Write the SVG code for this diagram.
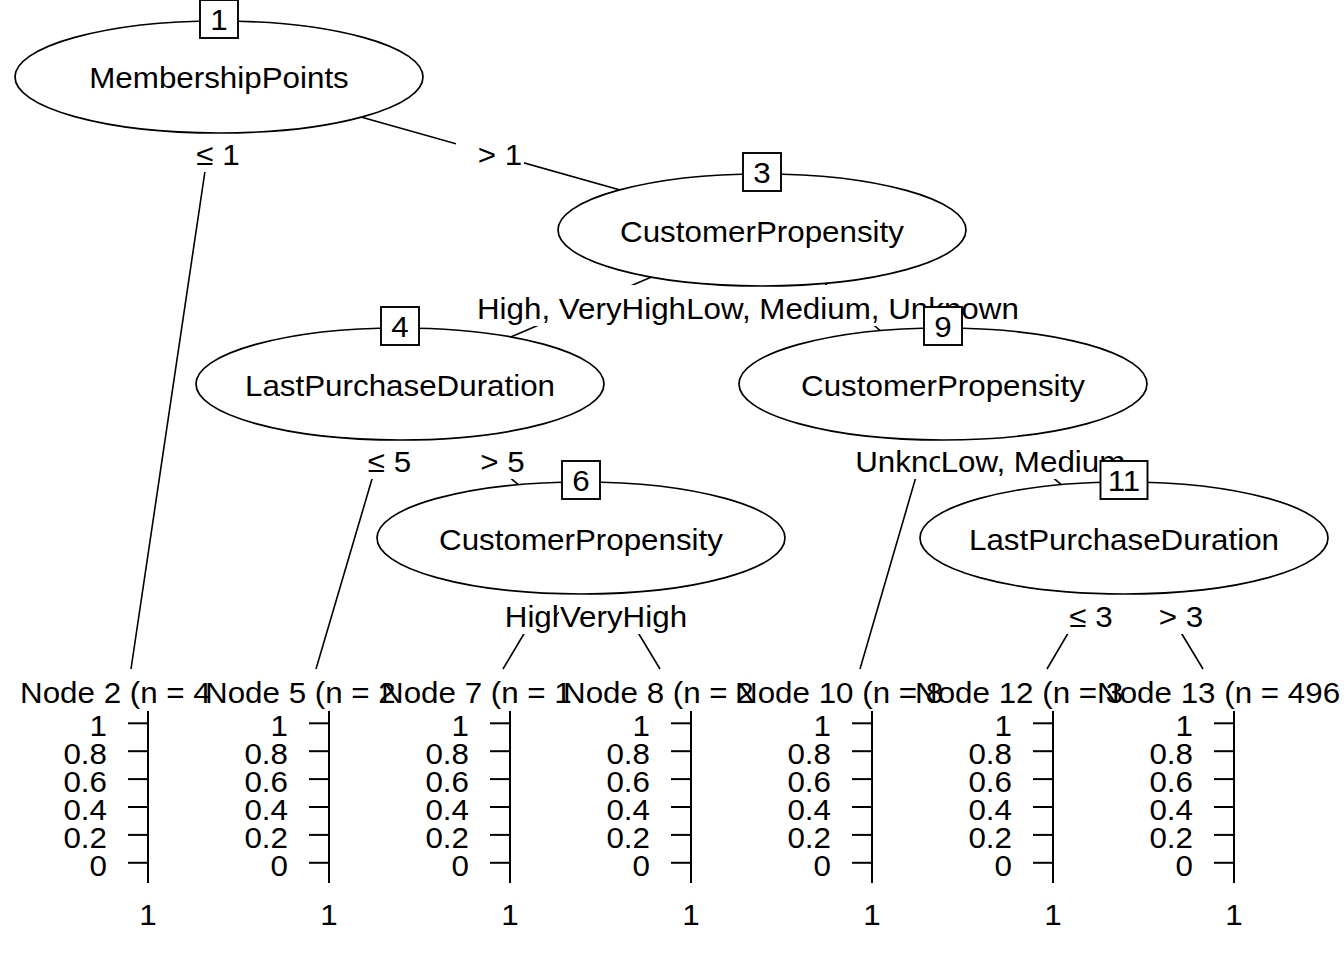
<svg xmlns="http://www.w3.org/2000/svg" width="1344" height="960" viewBox="0 0 1344 960">
<style>
text{font-family:"Liberation Sans",Arial,sans-serif;font-size:30px;fill:#000}
.m{text-anchor:middle}
.e{text-anchor:end}
.n ellipse{fill:#fff;stroke:#000;stroke-width:1.7}
.n rect{fill:#fff;stroke:#000;stroke-width:1.9}
.c line{stroke:#000;stroke-width:1.6}
.bg{fill:#fff;stroke:none}
.ax line{stroke:#000;stroke-width:2}
</style>
<rect width="1344" height="960" fill="#fff"/>
<g id="connectors" class="c">
<line x1="219" y1="77" x2="131" y2="669"/>
<line x1="219" y1="77" x2="762" y2="230"/>
<line x1="762" y1="230" x2="400" y2="384"/>
<line x1="762" y1="230" x2="943" y2="384"/>
<line x1="400" y1="384" x2="316" y2="669"/>
<line x1="400" y1="384" x2="581" y2="538"/>
<line x1="581" y1="538" x2="503" y2="669"/>
<line x1="581" y1="538" x2="660" y2="669"/>
<line x1="943" y1="384" x2="860" y2="669"/>
<line x1="943" y1="384" x2="1124" y2="538"/>
<line x1="1124" y1="538" x2="1047" y2="669"/>
<line x1="1124" y1="538" x2="1203" y2="669"/>
<g id="edge-labels">
<rect class="bg" x="174" y="131" width="68" height="41"/>
<text class="m" transform="translate(218,165) scale(1.045 1)">≤ 1</text>
<rect class="bg" x="456" y="131" width="68" height="41"/>
<text class="m" transform="translate(500,165) scale(1.045 1)">&gt; 1</text>
<rect class="bg" x="476" y="285" width="211" height="41"/>
<text class="m" transform="translate(581.5,319) scale(1.045 1)">High, VeryHigh</text>
<rect class="bg" x="345" y="438" width="68" height="41"/>
<text class="m" transform="translate(389.5,472) scale(1.045 1)">≤ 5</text>
<rect class="bg" x="458" y="438" width="68" height="41"/>
<text class="m" transform="translate(502.5,472) scale(1.045 1)">&gt; 5</text>
<rect class="bg" x="505" y="593" width="64" height="41"/>
<text class="m" transform="translate(537,627) scale(1.045 1)">High</text>
<rect class="bg" x="559" y="593" width="129" height="41"/>
<text class="m" transform="translate(623.5,627) scale(1.045 1)">VeryHigh</text>
<rect class="bg" x="685" y="285" width="335" height="41"/>
<text class="m" transform="translate(852.5,319) scale(1.045 1)">Low, Medium, Unknown</text>
<rect class="bg" x="855" y="438" width="131" height="41"/>
<text class="m" transform="translate(920.5,472) scale(1.045 1)">Unknown</text>
<rect class="bg" x="940" y="438" width="187" height="41"/>
<text class="m" transform="translate(1033,472) scale(1.045 1)">Low, Medium</text>
<rect class="bg" x="1047" y="593" width="68" height="41"/>
<text class="m" transform="translate(1091,627) scale(1.045 1)">≤ 3</text>
<rect class="bg" x="1137" y="593" width="68" height="41"/>
<text class="m" transform="translate(1181,627) scale(1.045 1)">&gt; 3</text>
</g>
</g>
<g id="node1" class="n">
<ellipse cx="219" cy="77" rx="204" ry="56"/>
<text class="m" transform="translate(219,88) scale(1.045 1)">MembershipPoints</text>
<rect x="200" y="0" width="38" height="38"/>
<text class="m" transform="translate(219,30) scale(1.045 1)">1</text>
</g>
<g id="node3" class="n">
<ellipse cx="762" cy="230" rx="204" ry="56"/>
<text class="m" transform="translate(762,242) scale(1.045 1)">CustomerPropensity</text>
<rect x="743" y="153" width="38" height="38"/>
<text class="m" transform="translate(762,183) scale(1.045 1)">3</text>
</g>
<g id="node4" class="n">
<ellipse cx="400" cy="384" rx="204" ry="56"/>
<text class="m" transform="translate(400,396) scale(1.045 1)">LastPurchaseDuration</text>
<rect x="381" y="307" width="38" height="38"/>
<text class="m" transform="translate(400,337) scale(1.045 1)">4</text>
</g>
<g id="node6" class="n">
<ellipse cx="581" cy="538" rx="204" ry="56"/>
<text class="m" transform="translate(581,550) scale(1.045 1)">CustomerPropensity</text>
<rect x="562" y="461" width="38" height="38"/>
<text class="m" transform="translate(581,491) scale(1.045 1)">6</text>
</g>
<g id="node9" class="n">
<ellipse cx="943" cy="384" rx="204" ry="56"/>
<text class="m" transform="translate(943,396) scale(1.045 1)">CustomerPropensity</text>
<rect x="924" y="307" width="38" height="38"/>
<text class="m" transform="translate(943,337) scale(1.045 1)">9</text>
</g>
<g id="node11" class="n">
<ellipse cx="1124" cy="538" rx="204" ry="56"/>
<text class="m" transform="translate(1124,550) scale(1.045 1)">LastPurchaseDuration</text>
<rect x="1100.5" y="461" width="47" height="38"/>
<text class="m" transform="translate(1124,491) scale(1.045 1)">11</text>
</g>
<defs>
<g id="axis" class="ax">
<line x1="0" y1="711" x2="0" y2="883"/>
<line x1="-20" y1="723.3" x2="0" y2="723.3"/>
<line x1="-20" y1="751.2" x2="0" y2="751.2"/>
<line x1="-20" y1="779.1" x2="0" y2="779.1"/>
<line x1="-20" y1="807" x2="0" y2="807"/>
<line x1="-20" y1="834.9" x2="0" y2="834.9"/>
<line x1="-20" y1="862.8" x2="0" y2="862.8"/>
<text class="e" transform="translate(-41,736) scale(1.045 1)">1</text>
<text class="e" transform="translate(-41,764) scale(1.045 1)">0.8</text>
<text class="e" transform="translate(-41,792) scale(1.045 1)">0.6</text>
<text class="e" transform="translate(-41,820) scale(1.045 1)">0.4</text>
<text class="e" transform="translate(-41,848) scale(1.045 1)">0.2</text>
<text class="e" transform="translate(-41,876) scale(1.045 1)">0</text>
<text class="m" transform="translate(0,925) scale(1.045 1)">1</text>
</g>
</defs>
<g id="node2"><text transform="translate(20,703) scale(1.045 1)">Node 2 (n = 4</text><use href="#axis" x="148"/></g>
<g id="node5"><text transform="translate(205,703) scale(1.045 1)">Node 5 (n = 2</text><use href="#axis" x="329"/></g>
<g id="node7"><text transform="translate(381,703) scale(1.045 1)">Node 7 (n = 1</text><use href="#axis" x="510"/></g>
<g id="node8"><text transform="translate(563,703) scale(1.045 1)">Node 8 (n = 2</text><use href="#axis" x="691"/></g>
<g id="node10"><text transform="translate(735,703) scale(1.045 1)">Node 10 (n = 8</text><use href="#axis" x="872"/></g>
<g id="node12"><text transform="translate(915,703) scale(1.045 1)">Node 12 (n = 3</text><use href="#axis" x="1053"/></g>
<g id="node13"><text transform="translate(1097,703) scale(1.045 1)">Node 13 (n = 496</text><use href="#axis" x="1234"/></g>
</svg>
